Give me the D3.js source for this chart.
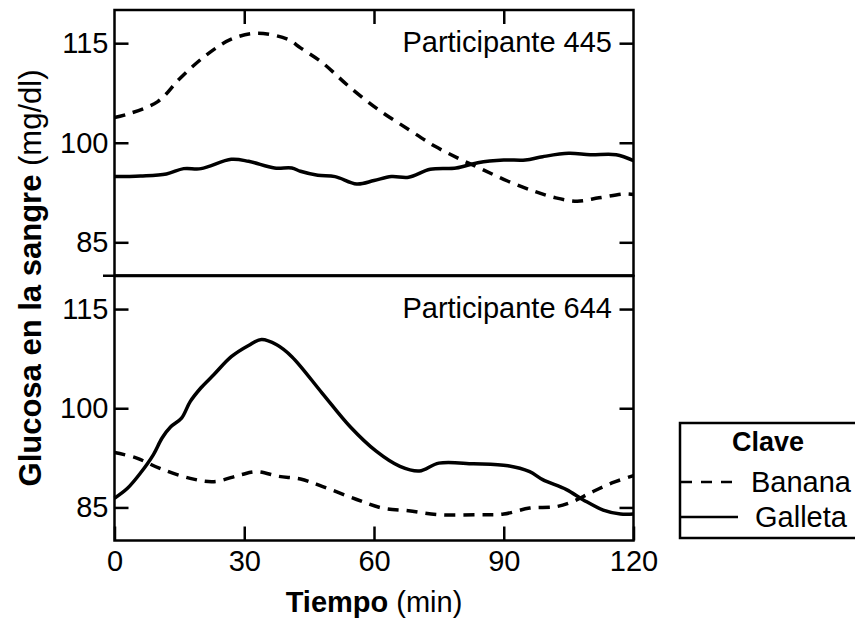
<!DOCTYPE html>
<html>
<head>
<meta charset="utf-8">
<script src="https://cdn.jsdelivr.net/npm/d3@7"></script>
<style>
  html, body { margin: 0; padding: 0; background: #fff; }
  svg { display: block; font-family: "Liberation Sans", Arial, Helvetica, sans-serif; }
</style>
</head>
<body>
<svg id="chart" width="855" height="619"></svg>
<script>
// ---- Data ----
const xTicks = [0, 30, 60, 90, 120];
const yTicks = [85, 100, 115];
const panels = ["Participante 445", "Participante 644"];
const seriesNames = ["Banana", "Galleta"];

// Participante 445
const p445BananaT = [0, 3, 10, 15, 21, 27, 33, 40, 43, 48, 54, 61, 68, 74, 80, 85, 91, 97, 102, 107, 112, 118, 120];
const p445BananaV = [103.8, 104.3, 106.2, 109.6, 113.1, 115.6, 116.5, 115.6, 114.3, 112.1, 108.6, 105, 102, 99.5, 97.5, 96, 94.2, 92.7, 91.7, 91.2, 91.7, 92.3, 92.2];
const p445GalletaT = [0, 6, 12, 16, 20, 27, 31, 37, 41, 43, 47, 51, 56, 60, 64, 68, 73, 79, 84, 90, 95, 99, 105, 110, 116, 120];
const p445GalletaV = [94.9, 95.0, 95.3, 96.1, 96.1, 97.5, 97.2, 96.2, 96.2, 95.7, 95.1, 94.9, 93.8, 94.3, 94.9, 94.8, 96.0, 96.2, 97.0, 97.4, 97.4, 97.9, 98.4, 98.2, 98.2, 97.3];

// Participante 644
const p644BananaT = [0, 5, 10.5, 17.5, 23, 29, 33, 38, 43, 48, 56, 62, 68, 75, 84.5, 90, 96, 102, 106, 110, 115, 120];
const p644BananaV = [93.3, 92.5, 90.9, 89.4, 88.9, 89.9, 90.4, 89.7, 89.3, 88.2, 86.2, 84.9, 84.5, 83.9, 83.9, 84.0, 84.9, 85.1, 85.9, 87.2, 88.7, 89.8];
const p644GalletaT = [0, 3, 6, 9, 11, 13, 15.5, 17.5, 20, 23, 27, 31, 34, 37.5, 41, 48, 54.5, 60.5, 66, 70.5, 75, 83, 91, 96, 99, 104.5, 108.5, 113, 117, 120];
const p644GalletaV = [86.4, 87.9, 90.2, 93.0, 95.5, 97.2, 98.5, 101, 103.1, 105.1, 107.8, 109.5, 110.4, 109.6, 107.8, 102.3, 97.2, 93.5, 91.2, 90.5, 91.7, 91.6, 91.3, 90.4, 89.2, 87.7, 86.1, 84.6, 84.0, 84.0];

// ---- Drawing ----
const svg = d3.select("#chart");
const FONT = 29;
const x = d3.scaleLinear().domain([0, 120]).range([114.5, 633.5]);
const yTop = d3.scaleLinear().domain([80, 120]).range([275.5, 10]);
const yBot = d3.scaleLinear().domain([80, 120]).range([540.5, 276]);

const zip = (t, v) => t.map((d, i) => [d, v[i]]);
const panelData = [
  { y: yTop, label: panels[0], series: [zip(p445BananaT, p445BananaV), zip(p445GalletaT, p445GalletaV)] },
  { y: yBot, label: panels[1], series: [zip(p644BananaT, p644BananaV), zip(p644GalletaT, p644GalletaV)] }
];

function styleAxis(g) {
  g.select(".domain").remove();
  g.selectAll(".tick line").attr("stroke", "#000").attr("stroke-width", 2.5);
  g.selectAll(".tick text").attr("fill", "#000").attr("font-size", FONT)
    .attr("font-family", '"Liberation Sans", Arial, Helvetica, sans-serif');
}

panelData.forEach((p, i) => {
  const [y0, y1] = p.y.range();
  const g = svg.append("g");

  // Lines
  const line = d3.line().x(d => x(d[0])).y(d => p.y(d[1])).curve(d3.curveCatmullRom.alpha(0.5));
  g.append("path").datum(p.series[0]).attr("d", line)
    .attr("fill", "none").attr("stroke", "#000").attr("stroke-width", 3.5)
    .attr("stroke-dasharray", "11,8");
  g.append("path").datum(p.series[1]).attr("d", line)
    .attr("fill", "none").attr("stroke", "#000").attr("stroke-width", 3.5);

  // Left axis
  g.append("g").attr("transform", `translate(${x(0)},0)`)
    .call(d3.axisLeft(p.y).tickValues(yTicks).tickSize(-14).tickPadding(6).tickFormat(d3.format("d")))
    .call(styleAxis);
  // Right axis (ticks only)
  g.append("g").attr("transform", `translate(${x(120)},0)`)
    .call(d3.axisRight(p.y).tickValues(yTicks).tickSize(-14).tickFormat(""))
    .call(styleAxis);

  if (i === 0) {
    g.append("g").attr("transform", `translate(0,${y1})`)
      .call(d3.axisTop(x).tickValues([30, 60, 90]).tickSize(-14).tickFormat(""))
      .call(styleAxis);
  } else {
    g.append("g").attr("transform", `translate(0,${y0})`)
      .call(d3.axisBottom(x).tickValues(xTicks).tickSize(-14).tickPadding(10))
      .call(styleAxis);
  }

  // Frame
  g.append("rect").attr("x", x(0)).attr("y", y1).attr("width", x(120) - x(0)).attr("height", y0 - y1)
    .attr("fill", "none").attr("stroke", "#000").attr("stroke-width", 2.5);

  // Participant label
  g.append("text").attr("x", 612).attr("y", p.y(115) + 9)
    .attr("text-anchor", "end").attr("font-size", FONT).attr("fill", "#000").text(p.label);
});

// Divider extending left
svg.append("line").attr("x1", 103).attr("x2", x(120)).attr("y1", 275.8).attr("y2", 275.8)
  .attr("stroke", "#000").attr("stroke-width", 2.5);

// X axis title
const xt = svg.append("text").attr("x", x(60)).attr("y", 612).attr("text-anchor", "middle")
  .attr("font-size", FONT).attr("fill", "#000");
xt.append("tspan").attr("font-weight", "bold").text("Tiempo");
xt.append("tspan").text(" (min)");

// Y axis title
const yt = svg.append("text").attr("transform", "translate(41,278) rotate(-90)")
  .attr("text-anchor", "middle").attr("font-size", 31).attr("fill", "#000");
yt.append("tspan").attr("font-weight", "bold").text("Glucosa en la sangre");
yt.append("tspan").text(" (mg/dl)");

// Legend
const lg = svg.append("g");
lg.append("rect").attr("x", 680).attr("y", 423).attr("width", 190).attr("height", 115)
  .attr("fill", "#fff").attr("stroke", "#000").attr("stroke-width", 2.5);
lg.append("text").attr("x", 768).attr("y", 451).attr("text-anchor", "middle")
  .attr("font-size", 27).attr("font-weight", "bold").attr("fill", "#000").text("Clave");
const legendRows = [
  { name: seriesNames[0], dash: "11,9", y: 482, tx: 751 },
  { name: seriesNames[1], dash: null, y: 517, tx: 755 }
];
legendRows.forEach(r => {
  const l = lg.append("line").attr("x1", 681).attr("x2", 738).attr("y1", r.y).attr("y2", r.y)
    .attr("stroke", "#000").attr("stroke-width", 2.5);
  if (r.dash) l.attr("stroke-dasharray", r.dash);
  lg.append("text").attr("x", r.tx).attr("y", r.y + 10).attr("font-size", FONT).attr("fill", "#000").text(r.name);
});
</script>
</body>
</html>
